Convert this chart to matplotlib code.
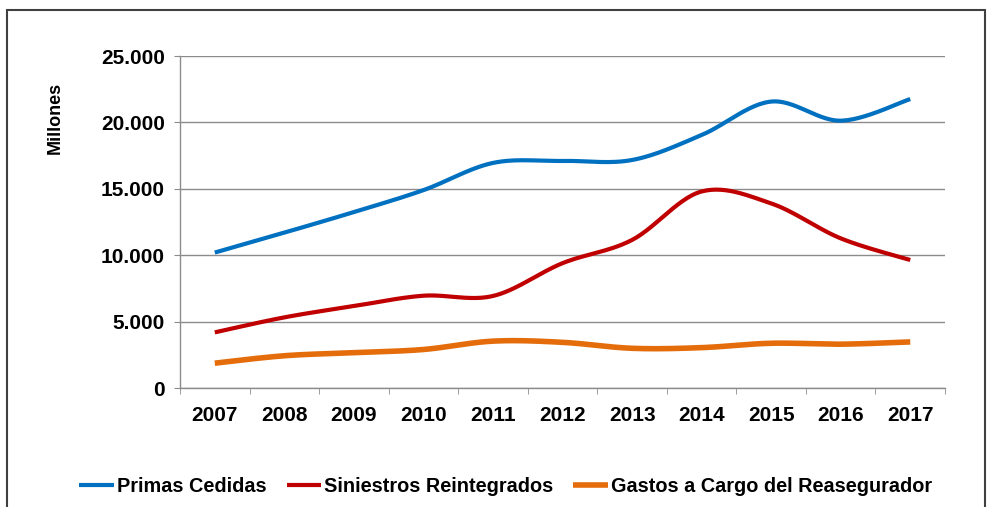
import numpy as np
import matplotlib
matplotlib.use("Agg")
import matplotlib.pyplot as plt
from matplotlib.patches import Rectangle

plt.rcParams["font.family"] = ["Liberation Sans", "DejaVu Sans"]
plt.rcParams["font.weight"] = "bold"

# Data (millones)
years = ["2007", "2008", "2009", "2010", "2011", "2012",
         "2013", "2014", "2015", "2016", "2017"]
primas_cedidas = [10200, 11700, 13250, 14900, 16950, 17100,
                  17170, 19050, 21570, 20130, 21760]
siniestros_reintegrados = [4190, 5320, 6170, 6950, 6930, 9400,
                           11150, 14800, 13900, 11270, 9640]
gastos_reasegurador = [1870, 2430, 2660, 2900, 3530, 3440,
                       2990, 3040, 3370, 3300, 3470]


def smooth(x, y, n=30):
    # Excel-style smoothed line: cubic Bezier with Catmull-Rom control points
    x = np.asarray(x, float)
    y = np.asarray(y, float)
    px = np.concatenate([[x[0]], x, [x[-1]]])
    py = np.concatenate([[y[0]], y, [y[-1]]])
    t = np.linspace(0, 1, n)[:, None]
    xs, ys = [], []
    for i in range(1, len(px) - 2):
        p0 = np.array([px[i], py[i]])
        p3 = np.array([px[i + 1], py[i + 1]])
        p1 = p0 + (np.array([px[i + 1], py[i + 1]]) - np.array([px[i - 1], py[i - 1]])) / 6
        p2 = p3 - (np.array([px[i + 2], py[i + 2]]) - np.array([px[i], py[i]])) / 6
        b = ((1 - t) ** 3) * p0 + 3 * ((1 - t) ** 2) * t * p1 + 3 * (1 - t) * t ** 2 * p2 + t ** 3 * p3
        xs.append(b[:, 0])
        ys.append(b[:, 1])
    return np.concatenate(xs), np.concatenate(ys)


fig = plt.figure(figsize=(9.88, 5.07), dpi=100)
ax = fig.add_axes([0.1822, 0.2347, 0.7743, 0.6548])

xpos = np.arange(len(years))
series = [
    (primas_cedidas, "Primas Cedidas", "#0070C0", 3.0),
    (siniestros_reintegrados, "Siniestros Reintegrados", "#C00000", 3.0),
    (gastos_reasegurador, "Gastos a Cargo del Reasegurador", "#E46C0A", 4.0),
]
for vals, label, color, lw in series:
    sx, sy = smooth(xpos, vals)
    ax.plot(sx, sy, color=color, lw=lw, label=label, solid_capstyle="butt")

ax.set_xlim(-0.5, len(years) - 0.5)
ax.set_ylim(0, 25000)
ax.set_yticks(np.arange(0, 25001, 5000))
ax.set_yticklabels(["0", "5.000", "10.000", "15.000", "20.000", "25.000"])
ax.set_xticks(xpos)
ax.set_xticklabels(years)
ax.set_xticks(np.arange(-0.5, len(years), 1), minor=True)

ax.grid(axis="y", color="#8c8c8c", lw=1)
ax.set_axisbelow(True)
for s in ["top", "right"]:
    ax.spines[s].set_visible(False)
for s in ["left", "bottom"]:
    ax.spines[s].set_color("#8c8c8c")
    ax.spines[s].set_linewidth(1)

ax.tick_params(axis="y", which="major", length=4.5, color="#8c8c8c",
               labelsize=15, pad=6.5)
ax.tick_params(axis="x", which="major", length=0, labelsize=15, pad=13)
ax.tick_params(axis="x", which="minor", length=4.5, color="#8c8c8c")

fig.text(0.056, 0.768, "Millones", rotation=90, ha="center", va="center",
         fontsize=13, fontweight="bold")

fig.legend(loc="center", bbox_to_anchor=(0.512, 0.04), ncol=3, frameon=False,
           fontsize=14.3, handlelength=1.75, handletextpad=0.15,
           columnspacing=1.0)

# outer chart border
fig.patches.append(Rectangle((7 / 988, -0.1), 978 / 988, 1.1 - 10 / 507,
                             transform=fig.transFigure, fill=False,
                             edgecolor="#404040", lw=1.5))

fig.savefig("out.png", dpi=100)
